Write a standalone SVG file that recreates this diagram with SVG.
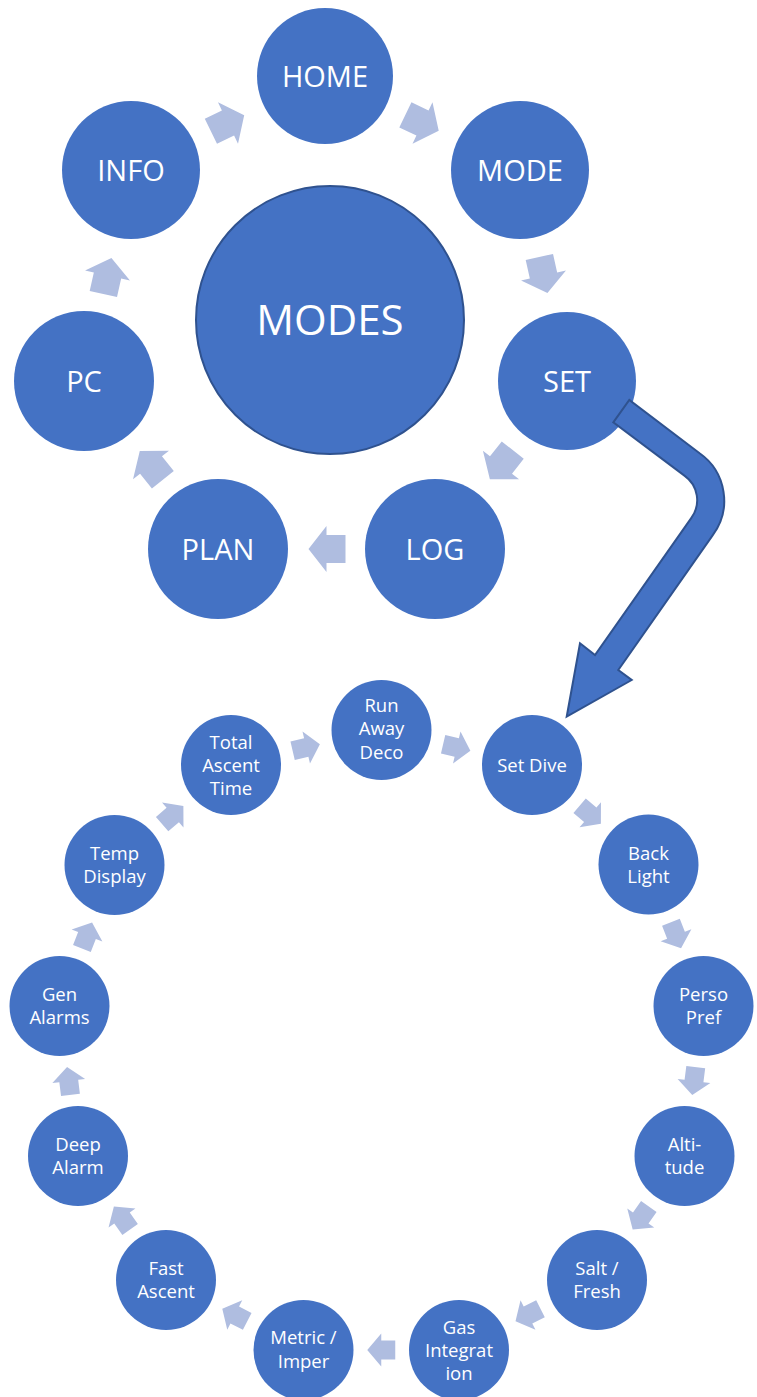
<svg xmlns="http://www.w3.org/2000/svg" xmlns:xlink="http://www.w3.org/1999/xlink" width="757" height="1397" viewBox="0 0 757 1397">
<style>
.n{fill:#4472C4}
.hub{fill:#4472C4;stroke:#2F528F;stroke-width:2}
.t{font-family:"Open Sans","Liberation Sans",sans-serif;fill:#FFFFFF;text-anchor:middle}
.tb{font-size:29px}
.ts{font-size:18.5px}
.th{font-size:42px}
.a{fill:#AFBDE0}
.big{fill:#4472C4;stroke:#2F528F;stroke-width:2;stroke-linejoin:miter}
</style>
<defs>
<polygon id="arrL" points="-19,-14 0,-14 0,-23 18,0 0,23 0,14 -19,14"/>
<polygon id="arrS" points="-14,-9.5 0,-9.5 0,-16.5 14,0 0,16.5 0,9.5 -14,9.5"/>
</defs>
<rect width="757" height="1397" fill="#FFFFFF"/>

<g id="connectors">
<g class="a">
<use xlink:href="#arrL" transform="translate(228,123) rotate(-25.8)"/>
<use xlink:href="#arrL" transform="translate(422.5,123) rotate(25.7)"/>
<use xlink:href="#arrL" transform="translate(543.5,275.5) rotate(77.4)"/>
<use xlink:href="#arrL" transform="translate(501,465) rotate(128.2)"/>
<use xlink:href="#arrL" transform="translate(326.5,549) rotate(180)"/>
<use xlink:href="#arrL" transform="translate(151,465) rotate(-128.6)"/>
<use xlink:href="#arrL" transform="translate(107.5,275.5) rotate(-77.4)"/>

<use xlink:href="#arrS" transform="translate(456.75,747.5) rotate(13.1)"/>
<use xlink:href="#arrS" transform="translate(590.25,814.75) rotate(40.5)"/>
<use xlink:href="#arrS" transform="translate(676,935.25) rotate(68.8)"/>
<use xlink:href="#arrS" transform="translate(694,1081) rotate(97.2)"/>
<use xlink:href="#arrS" transform="translate(640.75,1218) rotate(125.2)"/>
<use xlink:href="#arrS" transform="translate(528,1315) rotate(153.1)"/>
<use xlink:href="#arrS" transform="translate(381.25,1350) rotate(180)"/>
<use xlink:href="#arrS" transform="translate(234.75,1315) rotate(-153)"/>
<use xlink:href="#arrS" transform="translate(122,1218) rotate(-125.4)"/>
<use xlink:href="#arrS" transform="translate(68.75,1081) rotate(-97)"/>
<use xlink:href="#arrS" transform="translate(87,935.5) rotate(-68.7)"/>
<use xlink:href="#arrS" transform="translate(172.75,815) rotate(-40.6)"/>
<use xlink:href="#arrS" transform="translate(306.25,747.5) rotate(-13.1)"/>
</g>
</g>

<g id="node-modes"><circle class="hub" cx="330" cy="320" r="134"/><text class="t th" x="330" y="335">MODES</text></g>
<g id="node-home"><circle class="n" cx="325" cy="76" r="68"/><text class="t tb" x="325" y="86.5">HOME</text></g>
<g id="node-mode"><circle class="n" cx="520" cy="170" r="69"/><text class="t tb" x="520" y="180.5">MODE</text></g>
<g id="node-set"><circle class="n" cx="567" cy="381" r="69"/><text class="t tb" x="567" y="391.5">SET</text></g>
<g id="node-log"><circle class="n" cx="435" cy="549" r="70"/><text class="t tb" x="435" y="559.5">LOG</text></g>
<g id="node-plan"><circle class="n" cx="218" cy="549" r="70"/><text class="t tb" x="218" y="559.5">PLAN</text></g>
<g id="node-pc"><circle class="n" cx="84" cy="381" r="70"/><text class="t tb" x="84" y="391.5">PC</text></g>
<g id="node-info"><circle class="n" cx="131" cy="170" r="69"/><text class="t tb" x="131" y="180.5">INFO</text></g>

<g id="set-to-setdive-arrow">
<path class="big" d="M613.3,422.3 L629.3,400 L699.6,453.2 A58,58 0 0 1 712.6,535.4 L618.3,670 L631.7,680 L566.7,716.7 L580,643.3 L595,655 L691.2,518.1 A30,30 0 0 0 684.4,475.6 Z"/>
</g>

<g id="node-runaway"><circle class="n" cx="381.5" cy="730" r="50"/><text class="t ts" x="381.5" y="711.5">Run</text><text class="t ts" x="381.5" y="735">Away</text><text class="t ts" x="381.5" y="758.5">Deco</text></g>
<g id="node-setdive"><circle class="n" cx="532" cy="765" r="50"/><text class="t ts" x="532" y="771.5">Set Dive</text></g>
<g id="node-backlight"><circle class="n" cx="648.5" cy="864.5" r="50"/><text class="t ts" x="648.5" y="859.5">Back</text><text class="t ts" x="648.5" y="882.5">Light</text></g>
<g id="node-perso"><circle class="n" cx="703.5" cy="1006" r="50"/><text class="t ts" x="703.5" y="1001">Perso</text><text class="t ts" x="703.5" y="1024">Pref</text></g>
<g id="node-alti"><circle class="n" cx="684.5" cy="1156" r="50"/><text class="t ts" x="684.5" y="1151">Alti-</text><text class="t ts" x="684.5" y="1174">tude</text></g>
<g id="node-salt"><circle class="n" cx="597" cy="1280" r="50"/><text class="t ts" x="597" y="1275">Salt /</text><text class="t ts" x="597" y="1298">Fresh</text></g>
<g id="node-gas"><circle class="n" cx="459" cy="1350" r="50"/><text class="t ts" x="459" y="1333.5">Gas</text><text class="t ts" x="459" y="1356.5">Integrat</text><text class="t ts" x="459" y="1379.5">ion</text></g>
<g id="node-metric"><circle class="n" cx="303.5" cy="1350" r="50"/><text class="t ts" x="303.5" y="1343.5">Metric /</text><text class="t ts" x="303.5" y="1367.5">Imper</text></g>
<g id="node-fast"><circle class="n" cx="166" cy="1280" r="50"/><text class="t ts" x="166" y="1275">Fast</text><text class="t ts" x="166" y="1298">Ascent</text></g>
<g id="node-deep"><circle class="n" cx="78" cy="1156" r="50"/><text class="t ts" x="78" y="1151">Deep</text><text class="t ts" x="78" y="1174">Alarm</text></g>
<g id="node-gen"><circle class="n" cx="59.5" cy="1006" r="50"/><text class="t ts" x="59.5" y="1001">Gen</text><text class="t ts" x="59.5" y="1024">Alarms</text></g>
<g id="node-temp"><circle class="n" cx="114.5" cy="865" r="50"/><text class="t ts" x="114.5" y="860">Temp</text><text class="t ts" x="114.5" y="883">Display</text></g>
<g id="node-total"><circle class="n" cx="231" cy="765" r="50"/><text class="t ts" x="231" y="748.5">Total</text><text class="t ts" x="231" y="771.5">Ascent</text><text class="t ts" x="231" y="794.5">Time</text></g>
</svg>
